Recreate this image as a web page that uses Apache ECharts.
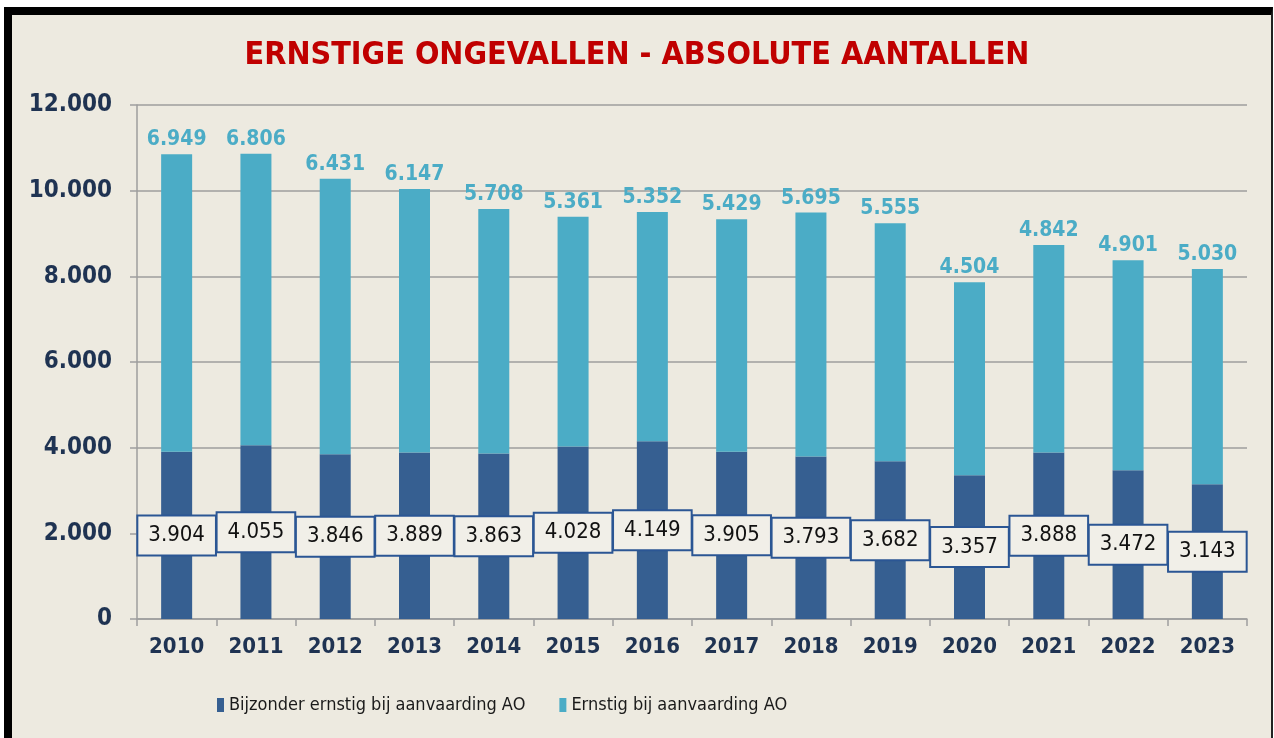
<!DOCTYPE html>
<html>
<head>
<meta charset="utf-8">
<script src="https://cdn.jsdelivr.net/npm/echarts@6/dist/echarts.min.js"></script>
<style>
  html, body { margin: 0; padding: 0; background: #ffffff; }
  #frame {
    position: absolute; left: 4px; top: 7px; width: 1269px; height: 731px;
    box-sizing: border-box; background: #EDEAE0;
    border-top: 8px solid #000; border-left: 8px solid #000; border-right: 2px solid #222;
  }
  #chart { position: absolute; left: 0; top: 0; width: 1274px; height: 738px; }
</style>
</head>
<body>
<div id="frame"></div>
<div id="chart"></div>
<script>
const years = ['2010', '2011', '2012', '2013', '2014', '2015', '2016', '2017', '2018', '2019', '2020', '2021', '2022', '2023'];
const bijzonderErnstig = [3904, 4055, 3846, 3889, 3863, 4028, 4149, 3905, 3793, 3682, 3357, 3888, 3472, 3143];
const ernstig = [6949, 6806, 6431, 6147, 5708, 5361, 5352, 5429, 5695, 5555, 4504, 4842, 4901, 5030];
const yTicks = [0, 2000, 4000, 6000, 8000, 10000, 12000];

const font = '"DejaVu Sans Condensed", "DejaVu Sans", sans-serif';
const navy = '#1F3352';

// 3904 -> "3.904"
function fmt(v) {
  return String(v).replace(/\B(?=(\d{3})+(?!\d))/g, '.');
}

const chart = echarts.init(document.getElementById('chart'));

const option = {
  backgroundColor: 'transparent',
  animation: false,
  title: {
    text: 'ERNSTIGE ONGEVALLEN - ABSOLUTE AANTALLEN',
    left: 'center',
    top: 35,
    textStyle: { color: '#C00000', fontSize: 32, fontWeight: 'bold', fontFamily: font }
  },
  legend: {
    left: 212,
    top: 691,
    icon: 'rect',
    itemWidth: 7,
    itemHeight: 14,
    itemGap: 34,
    textStyle: { color: '#1a1a1a', fontSize: 18, fontFamily: font },
    data: ['Bijzonder ernstig bij aanvaarding AO', 'Ernstig bij aanvaarding AO']
  },
  grid: { left: 137, top: 105, width: 1110, height: 514 },
  xAxis: {
    type: 'category',
    data: years,
    axisLine: { lineStyle: { color: '#9E9E9E', width: 1.5 } },
    axisTick: { show: true, length: 7, lineStyle: { color: '#9E9E9E', width: 1.5 } },
    axisLabel: { color: navy, fontSize: 22, fontWeight: 'bold', fontFamily: font, margin: 17 }
  },
  yAxis: {
    type: 'value',
    min: yTicks[0],
    max: yTicks[yTicks.length - 1],
    interval: 2000,
    axisLine: { show: true, lineStyle: { color: '#9E9E9E', width: 1.5 } },
    axisTick: { show: true, length: 7, lineStyle: { color: '#9E9E9E', width: 1.5 } },
    axisLabel: { color: navy, fontSize: 24, fontWeight: 'bold', fontFamily: font, margin: 25, formatter: fmt },
    splitLine: { lineStyle: { color: '#9E9E9E', width: 1.5 } }
  },
  series: [
    {
      name: 'Bijzonder ernstig bij aanvaarding AO',
      type: 'bar',
      stack: 'totaal',
      barWidth: 31,
      data: bijzonderErnstig,
      itemStyle: { color: '#365F91' },
      label: {
        show: true,
        position: 'inside',
        formatter: p => fmt(p.value),
        color: '#111',
        fontSize: 22,
        fontFamily: font,
        backgroundColor: '#F1EFE8',
        borderColor: '#2B5694',
        borderWidth: 2,
        padding: [6, 10, 6, 10],
        lineHeight: 26
      }
    },
    {
      name: 'Ernstig bij aanvaarding AO',
      type: 'bar',
      stack: 'totaal',
      barWidth: 31,
      data: ernstig,
      itemStyle: { color: '#4BACC6' },
      label: {
        show: true,
        position: 'top',
        distance: 4,
        formatter: p => fmt(p.value),
        color: '#4BACC6',
        fontSize: 21,
        fontWeight: 'bold',
        fontFamily: font
      }
    }
  ]
};

chart.setOption(option);
</script>
</body>
</html>
